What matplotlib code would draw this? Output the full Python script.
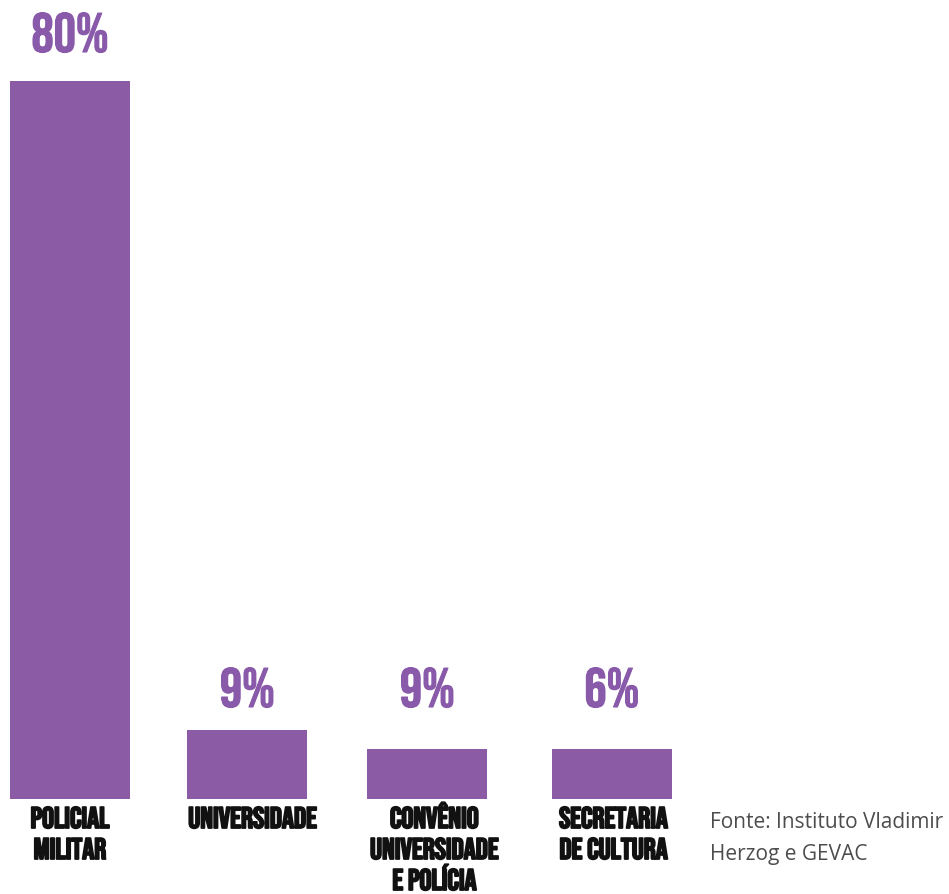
import matplotlib
matplotlib.use("Agg")
import matplotlib.pyplot as plt
import matplotlib.patheffects as pe

categories = ["POLICIAL\nMILITAR", "UNIVERSIDADE", "CONVÊNIO\nUNIVERSIDADE\nE POLÍCIA", "SECRETARIA\nDE CULTURA"]
bar_heights = [80, 7.7, 5.6, 5.6]          # drawn heights
value_labels = ["80%", "9%", "9%", "6%"]
source_lines = ["Fonte: Instituto Vladimir", "Herzog e GEVAC"]

bar_color = "#8b5ca5"
label_color = "#8a5aaa"
PX = 8.98  # pixels per data unit

fig = plt.figure(figsize=(9.49, 8.94), dpi=100)
ax = fig.add_axes([0, 95 / 894, 1, 88 * PX / 894])
xs = [0, 0.985, 1.985, 3.01]
ax.bar(xs, bar_heights, width=0.667, color=bar_color, zorder=2)
ax.set_xlim(-0.389, -0.389 + 949 / 180)
ax.set_ylim(0, 88)
ax.axis("off")

for i, (x, h, lab) in enumerate(zip(xs, bar_heights, value_labels)):
    y = (799 - 52) / PX if i == 0 else (799 - 707) / PX
    ax.text(x, y, lab, ha="center", va="baseline", color=label_color,
            fontsize=40, family="Bebas Neue",
            path_effects=[pe.withStroke(linewidth=0.8, foreground=label_color)])

label_dx = [0.0, 0.03, 0.04, 0.01]
for x, dx, cat in zip(xs, label_dx, categories):
    for j, line in enumerate(cat.split("\n")):
        y = -(828 + 31 * j - 799) / PX
        ax.text(x + dx, y, line, ha="center", va="baseline", color="#111111",
                fontsize=21.5, family="Bebas Neue", clip_on=False,
                path_effects=[pe.withStroke(linewidth=1.3, foreground="#111111")])

for j, line in enumerate(source_lines):
    fig.text(710 / 949, 1 - (828 + 32 * j) / 894, line, ha="left", va="baseline",
             color="#4d4d4d", fontsize=15, family="Open Sans")

fig.savefig("out.png", dpi=100, facecolor="white")
